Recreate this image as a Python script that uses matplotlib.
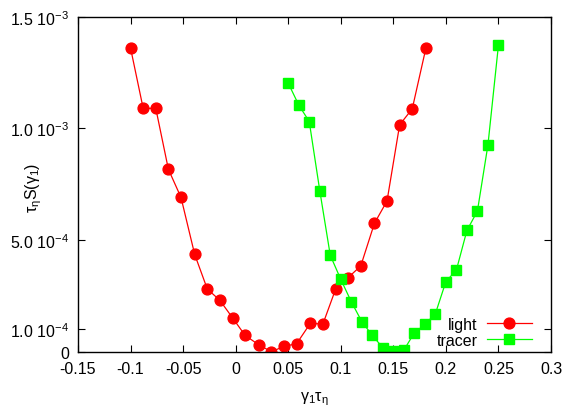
import matplotlib
matplotlib.use("Agg")
import matplotlib.pyplot as plt

plt.rcParams['font.family'] = ['Liberation Sans', 'DejaVu Sans']
plt.rcParams['mathtext.fontset'] = 'custom'
plt.rcParams['mathtext.rm'] = 'Liberation Sans'
plt.rcParams['mathtext.it'] = 'Liberation Sans:italic'

# light particles
light_x = [-0.100, -0.088, -0.076, -0.064, -0.052, -0.039, -0.027, -0.015,
           -0.003, 0.009, 0.022, 0.034, 0.046, 0.058, 0.071, 0.083,
           0.095, 0.107, 0.119, 0.132, 0.144, 0.156, 0.168, 0.181]
light_y = [1.360e-3, 1.090e-3, 1.090e-3, 0.817e-3, 0.691e-3, 0.436e-3, 0.281e-3, 0.230e-3,
           0.152e-3, 0.073e-3, 0.031e-3, 0.000e-3, 0.024e-3, 0.036e-3, 0.127e-3, 0.124e-3,
           0.279e-3, 0.332e-3, 0.384e-3, 0.575e-3, 0.675e-3, 1.016e-3, 1.088e-3, 1.360e-3]

# tracers
tracer_x = [0.05, 0.06, 0.07, 0.08, 0.09, 0.10, 0.11, 0.12, 0.13, 0.14, 0.15,
            0.16, 0.17, 0.18, 0.19, 0.20, 0.21, 0.22, 0.23, 0.24, 0.25]
tracer_y = [1.203e-3, 1.105e-3, 1.031e-3, 0.722e-3, 0.432e-3, 0.324e-3, 0.224e-3,
            0.135e-3, 0.073e-3, 0.018e-3, 0.001e-3, 0.007e-3, 0.085e-3, 0.122e-3,
            0.170e-3, 0.314e-3, 0.366e-3, 0.543e-3, 0.630e-3, 0.926e-3, 1.373e-3]

xticks = [-0.15, -0.1, -0.05, 0, 0.05, 0.1, 0.15, 0.2, 0.25, 0.3]
xticklabels = ["-0.15", "-0.1", "-0.05", "0", "0.05", "0.1", "0.15", "0.2", "0.25", "0.3"]
yticks = [0, 1e-4, 5e-4, 1e-3, 1.5e-3]
yticklabels = ["0", "1.0 10$^{-4}$", "5.0 10$^{-4}$", "1.0 10$^{-3}$", "1.5 10$^{-3}$"]

fig = plt.figure(figsize=(5.66, 4.10), dpi=100)
ax = fig.add_axes([0.1378, 0.1397, 0.9735 - 0.1378, 0.9566 - 0.1397])

ax.plot(light_x, light_y, '-o', color='#ff0000', lw=0.9, ms=7.8, label='light')
ax.plot(tracer_x, tracer_y, '-s', color='#00ff00', lw=0.9, ms=7.3, label='tracer')

ax.set_xlim(-0.15, 0.3)
ax.set_ylim(0, 1.5e-3)
ax.set_xticks(xticks)
ax.set_xticklabels(xticklabels)
ax.set_yticks(yticks)
ax.set_yticklabels(yticklabels)
ax.tick_params(direction='in', top=True, right=True, labelsize=11.5, length=5, width=0.8)
ax.tick_params(axis='x', pad=7)
ax.tick_params(axis='y', pad=6.5)
for s in ax.spines.values():
    s.set_linewidth(1.0)

ax.set_xlabel(r'γ$_\mathregular{1}$τ$_\mathregular{η}$', fontsize=11.5)
ax.set_ylabel(r'τ$_\mathregular{η}$S(γ$_\mathregular{1}$)', fontsize=11.5)
ax.xaxis.set_label_coords(0.5, -0.112)
ax.yaxis.set_label_coords(-0.072, 0.492)

ax.legend(loc='lower right', bbox_to_anchor=(0.973, -0.0075), frameon=False,
          markerfirst=False, fontsize=11.5, handlelength=2.8, labelspacing=0.05,
          borderaxespad=0, handletextpad=0.6)

fig.savefig("out.png", dpi=100)
